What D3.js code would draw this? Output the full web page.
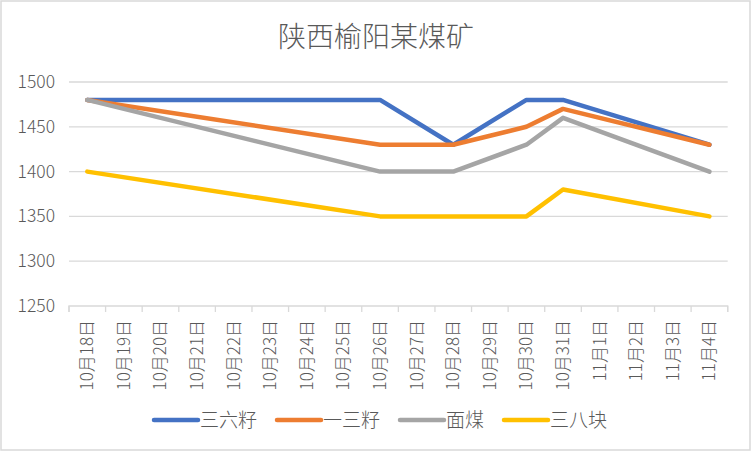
<!DOCTYPE html>
<html><head><meta charset="utf-8">
<script src="https://cdn.jsdelivr.net/npm/d3@7"></script>
<style>
html,body{margin:0;padding:0;background:#fff;}
svg{display:block;}
text{font-family:"Noto Sans CJK SC","Noto Sans",sans-serif;font-weight:300;}
</style></head>
<body>
<svg id="chart" width="752" height="452"></svg>
<script>
const title = "陕西榆阳某煤矿";
const categories = ["10月18日","10月19日","10月20日","10月21日","10月22日","10月23日","10月24日","10月25日","10月26日","10月27日","10月28日","10月29日","10月30日","10月31日","11月1日","11月2日","11月3日","11月4日"];
const pointDates = ["10月18日","10月26日","10月28日","10月30日","10月31日","11月4日"];
const seriesNames = ["三六籽","一三籽","面煤","三八块"];
const sanLiuZi = [1480,1480,1430,1480,1480,1430];
const yiSanZi  = [1480,1430,1430,1450,1470,1430];
const mianMei  = [1480,1400,1400,1430,1460,1400];
const sanBaKuai= [1400,1350,1350,1350,1380,1350];
const yTicks = [1250,1300,1350,1400,1450,1500];
const colors = ["#4472C4","#ED7D31","#A5A5A5","#FFC000"];

const seriesValues = [sanLiuZi, yiSanZi, mianMei, sanBaKuai];
const svg = d3.select("#chart");

svg.append("rect").attr("x",1).attr("y",1).attr("width",749).attr("height",449)
  .attr("fill","#fff").attr("stroke","#d9d9d9").attr("stroke-width",1.5);

const x = d3.scaleBand().domain(categories).range([69,727.7]).paddingInner(0).paddingOuter(0);
const y = d3.scaleLinear().domain([1250,1500]).range([306,82]);

svg.append("text").attr("x",376).attr("y",47).attr("text-anchor","middle")
  .attr("font-size",28).attr("fill","#595959").text(title);

// gridlines
svg.append("g").selectAll("line").data(yTicks.filter(d=>d!==1250)).join("line")
  .attr("x1",69).attr("x2",727.7).attr("y1",d=>y(d)).attr("y2",d=>y(d))
  .attr("stroke","#d9d9d9").attr("stroke-width",1.3);

// y labels
svg.append("g").selectAll("text").data(yTicks).join("text")
  .attr("x",55).attr("y",d=>y(d)+6).attr("text-anchor","end")
  .attr("font-size",17.5).attr("fill","#595959").text(d=>d);

// x axis
const xAxis = d3.axisBottom(x).tickSize(6).tickFormat("");
const gx = svg.append("g").attr("transform",`translate(0,${y(1250)})`).call(xAxis);
gx.select(".domain").attr("stroke","#d9d9d9").attr("stroke-width",1.3).attr("d",`M69,6V0H727.7V6`);
gx.selectAll(".tick").remove();
const edges = categories.map(c=>x(c)).concat([727.7]);
gx.selectAll("line.edge").data(edges).join("line").attr("class","edge")
  .attr("x1",d=>d).attr("x2",d=>d).attr("y1",0).attr("y2",6)
  .attr("stroke","#d9d9d9").attr("stroke-width",1.3);

// x labels
svg.append("g").selectAll("text").data(categories).join("text")
  .attr("transform",d=>`translate(${x(d)+x.bandwidth()/2+6},320) rotate(-90)`)
  .attr("text-anchor","end").attr("font-size",17)
  .attr("fill","#595959").text(d=>d);

// lines
const line = d3.line().x(d=>x(d.c)+x.bandwidth()/2).y(d=>y(d.v));
seriesValues.forEach((vals,i)=>{
  const pts = pointDates.map((c,j)=>({c,v:vals[j]}));
  svg.append("path").datum(pts).attr("d",line).attr("fill","none")
    .attr("stroke",colors[i]).attr("stroke-width",4.5)
    .attr("stroke-linejoin","round").attr("stroke-linecap","round");
});

// legend
const legendX = [154,277,400,504];
const lg = svg.append("g");
seriesNames.forEach((n,i)=>{
  lg.append("line").attr("x1",legendX[i]).attr("x2",legendX[i]+44).attr("y1",420).attr("y2",420)
    .attr("stroke",colors[i]).attr("stroke-width",4.5).attr("stroke-linecap","round");
  lg.append("text").attr("x",legendX[i]+46).attr("y",427).attr("font-size",19)
    .attr("fill","#595959").text(n);
});
</script>
</body></html>
